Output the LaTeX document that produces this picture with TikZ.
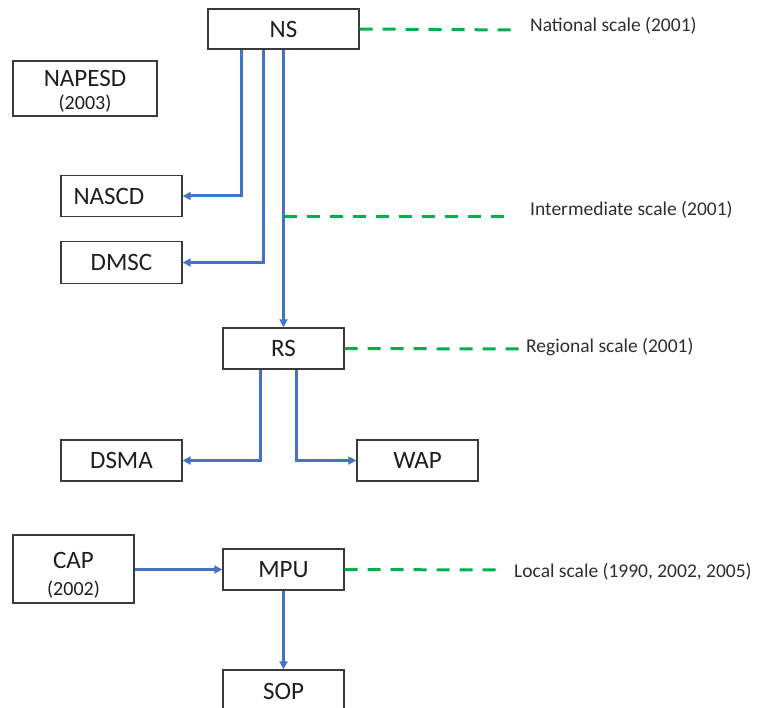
\documentclass[tikz,border=0pt]{standalone}
\usepackage{fontspec}
\setmainfont{Carlito}
\usetikzlibrary{arrows.meta,positioning}

\definecolor{flowblue}{HTML}{4472C4}
\definecolor{scalegreen}{HTML}{00B050}
\definecolor{boxline}{HTML}{3A3A3A}
\definecolor{inktext}{HTML}{1E1E1E}
\definecolor{labeltext}{HTML}{2E2E2E}

\tikzset{
  unit/.style={draw=boxline, line width=1.4pt, fill=white, inner sep=0pt,
    minimum width=121pt, minimum height=41pt, text=inktext,
    font=\fontsize{25}{28}\selectfont},
  tallunit/.style={unit, align=center},
  flow/.style={draw=flowblue, line width=3pt,
    -{Triangle[length=8pt,width=8pt]}},
  scaleline/.style={draw=scalegreen, line width=3pt, dash pattern=on 13pt off 10pt},
  scaletext/.style={anchor=west, inner sep=0pt, text=labeltext,
    font=\fontsize{19.5}{22}\selectfont},
}

\newcommand{\yearline}[1]{{\fontsize{20}{22}\selectfont #1}}

\begin{document}
\begin{tikzpicture}[x=1pt,y=-1pt]
  \useasboundingbox (0,0) rectangle (759,708);
  \clip (0,0) rectangle (759,708);

  % organisation boxes
  \node[unit, minimum width=151pt, minimum height=40pt] (NS) at (283.5,29) {NS};
  \node[tallunit, minimum width=144pt, minimum height=55pt] (NAPESD) at (85,88.5)
    {\rule{0pt}{22pt}NAPESD\\[-5pt]\yearline{(2003)}};
  \node[unit] (NASCD) at (121.5,196) {\makebox[96pt][l]{NASCD}};
  \node[unit, minimum height=42pt] (DMSC) at (121.5,262.5) {DMSC};
  \node[unit] (RS) at (283.5,348.5) {RS};
  \node[unit] (DSMA) at (121.5,460.5) {DSMA};
  \node[unit] (WAP) at (417.5,460.5) {WAP};
  \node[tallunit, minimum height=68pt] (CAP) at (73.5,569)
    {\rule{0pt}{28pt}CAP\\[-1pt]\yearline{(2002)}};
  \node[unit] (MPU) at (283.5,569.5) {MPU};
  \node[unit, minimum height=42pt] (SOP) at (283.5,691) {SOP};

  % hierarchy connectors
  \draw[flow] ([xshift=-42pt]NS.south) |- (NASCD.east);
  \draw[flow] ([xshift=-20pt]NS.south) |- (DMSC.east);
  \draw[flow] (NS.south) -- (RS.north);
  \draw[flow] ([xshift=-23pt]RS.south) |- (DSMA.east);
  \draw[flow] ([xshift=13pt]RS.south) |- (WAP.west);
  \draw[flow] (CAP.east |- MPU.west) -- (MPU.west);
  \draw[flow] (MPU.south) -- (SOP.north);

  % scale markers
  \coordinate (natEnd) at (515,30);
  \coordinate (intStart) at (283.5,217);
  \coordinate (intEnd) at (510,217);
  \coordinate (regEnd) at (525,349);
  \coordinate (locEnd) at (501,570);

  \draw[scaleline] (NS.east) -- (natEnd);
  \draw[scaleline] (intStart) -- (intEnd);
  \draw[scaleline] (RS.east) -- (regEnd);
  \draw[scaleline] (MPU.east) -- (locEnd);

  \node[scaletext] (natLabel) at (530,26) {National scale (2001)};
  \node[scaletext] (intLabel) at (530,210) {Intermediate scale (2001)};
  \node[scaletext] (regLabel) at (526,347) {Regional scale (2001)};
  \node[scaletext] (locLabel) at (514,572) {Local scale (1990, 2002, 2005)};
\end{tikzpicture}
\end{document}
